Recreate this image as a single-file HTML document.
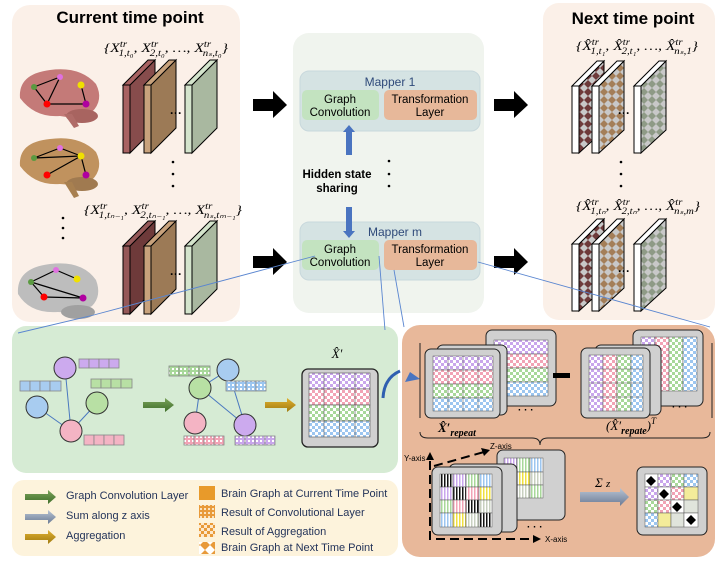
<!DOCTYPE html>
<html><head><meta charset="utf-8"><style>
html,body{margin:0;padding:0;background:#fff;}
svg{display:block;font-family:"Liberation Sans",sans-serif;}
.m{font-family:"Liberation Serif",serif;font-style:italic;font-size:13px;}
.lg{font-size:11px;fill:#24345a;}
</style></head><body>
<svg width="719" height="562" viewBox="0 0 719 562" xmlns="http://www.w3.org/2000/svg">
<defs>
<pattern id="cP" width="6" height="6" patternUnits="userSpaceOnUse"><rect width="6" height="6" fill="#fff"/><rect width="3" height="3" fill="#c9a6ec"/><rect x="3" y="3" width="3" height="3" fill="#c9a6ec"/></pattern>
<pattern id="cR" width="6" height="6" patternUnits="userSpaceOnUse"><rect width="6" height="6" fill="#fff"/><rect width="3" height="3" fill="#f2a3b5"/><rect x="3" y="3" width="3" height="3" fill="#f2a3b5"/></pattern>
<pattern id="cG" width="6" height="6" patternUnits="userSpaceOnUse"><rect width="6" height="6" fill="#fff"/><rect width="3" height="3" fill="#a8d89a"/><rect x="3" y="3" width="3" height="3" fill="#a8d89a"/></pattern>
<pattern id="cB" width="6" height="6" patternUnits="userSpaceOnUse"><rect width="6" height="6" fill="#fff"/><rect width="3" height="3" fill="#9cc6f0"/><rect x="3" y="3" width="3" height="3" fill="#9cc6f0"/></pattern>
<pattern id="dG" width="4" height="4" patternUnits="userSpaceOnUse"><rect width="4" height="4" fill="#a8d89a"/><rect width="2" height="2" fill="#fff"/></pattern>
<pattern id="dB" width="4" height="4" patternUnits="userSpaceOnUse"><rect width="4" height="4" fill="#9cc6f0"/><rect width="2" height="2" fill="#fff"/></pattern>
<pattern id="dR" width="4" height="4" patternUnits="userSpaceOnUse"><rect width="4" height="4" fill="#f2a3b5"/><rect width="2" height="2" fill="#fff"/></pattern>
<pattern id="dP" width="4" height="4" patternUnits="userSpaceOnUse"><rect width="4" height="4" fill="#c9a6ec"/><rect width="2" height="2" fill="#fff"/></pattern>
<pattern id="diaR" width="8" height="8" patternUnits="userSpaceOnUse"><rect width="8" height="8" fill="#c8c8c8"/><path d="M4 0L8 4L4 8L0 4Z" fill="#6e3a3a"/></pattern>
<pattern id="diaT" width="8" height="8" patternUnits="userSpaceOnUse"><rect width="8" height="8" fill="#c8c8c8"/><path d="M4 0L8 4L4 8L0 4Z" fill="#a47e58"/></pattern>
<pattern id="diaG" width="8" height="8" patternUnits="userSpaceOnUse"><rect width="8" height="8" fill="#c8c8c8"/><path d="M4 0L8 4L4 8L0 4Z" fill="#8e9a86"/></pattern>
<pattern id="sK" width="3" height="4" patternUnits="userSpaceOnUse"><rect width="3" height="4" fill="#fff"/><rect width="1.5" height="4" fill="#111"/></pattern>
<pattern id="sP" width="3" height="4" patternUnits="userSpaceOnUse"><rect width="3" height="4" fill="#fff"/><rect width="1.5" height="4" fill="#c9a6ec"/></pattern>
<pattern id="sR" width="3" height="4" patternUnits="userSpaceOnUse"><rect width="3" height="4" fill="#fff"/><rect width="1.5" height="4" fill="#f2a3b5"/></pattern>
<pattern id="sG" width="3" height="4" patternUnits="userSpaceOnUse"><rect width="3" height="4" fill="#fff"/><rect width="1.5" height="4" fill="#a8d89a"/></pattern>
<pattern id="sB" width="3" height="4" patternUnits="userSpaceOnUse"><rect width="3" height="4" fill="#fff"/><rect width="1.5" height="4" fill="#9cc6f0"/></pattern>
<pattern id="sY" width="3" height="4" patternUnits="userSpaceOnUse"><rect width="3" height="4" fill="#fff"/><rect width="1.5" height="4" fill="#f0e040"/></pattern>
<pattern id="sW" width="3" height="4" patternUnits="userSpaceOnUse"><rect width="3" height="4" fill="#fff"/><rect width="1.5" height="4" fill="#c8d0c0"/></pattern>
<pattern id="oS" width="4" height="4" patternUnits="userSpaceOnUse"><rect width="4" height="4" fill="#e89a3a"/><rect width="2" height="2" fill="#fbe3c0"/></pattern>
<pattern id="oC" width="6" height="6" patternUnits="userSpaceOnUse"><rect width="6" height="6" fill="#fde8cc"/><rect width="3" height="3" fill="#e89a3a"/><rect x="3" y="3" width="3" height="3" fill="#e89a3a"/></pattern>
<pattern id="oD" width="10" height="10" patternUnits="userSpaceOnUse"><rect width="10" height="10" fill="#fff"/><path d="M5 0L10 5L5 10L0 5Z" fill="#e89a3a"/></pattern>
<linearGradient id="gGreen" x1="0" y1="0" x2="0" y2="1"><stop offset="0" stop-color="#7aa25a"/><stop offset="1" stop-color="#3f6e2a"/></linearGradient>
<linearGradient id="gGold" x1="0" y1="0" x2="0" y2="1"><stop offset="0" stop-color="#e0b030"/><stop offset="1" stop-color="#a07a10"/></linearGradient>
<linearGradient id="gGray" x1="0" y1="0" x2="0" y2="1"><stop offset="0" stop-color="#b8c4d4"/><stop offset="1" stop-color="#6a7a94"/></linearGradient>
</defs>

<rect x="12" y="5" width="228" height="317" rx="18" fill="#fbf0e8"/>
<rect x="293" y="33" width="191" height="280" rx="16" fill="#f0f4ee"/>
<rect x="543" y="3" width="172" height="317" rx="16" fill="#fbf0e8"/>
<rect x="12" y="326" width="386" height="147" rx="14" fill="#d6ebd4"/>
<rect x="12" y="480" width="386" height="76" rx="12" fill="#fdf3dc"/>
<rect x="402" y="325" width="313" height="232" rx="18" fill="#e8b89a"/>

<text x="130" y="23" text-anchor="middle" font-size="17" font-weight="bold">Current time point</text>
<text x="633" y="24" text-anchor="middle" font-size="17" font-weight="bold">Next time point</text>

<!-- brains -->
<g>
 <path d="M20 98 Q18 74 50 70 Q80 66 96 84 Q104 100 92 112 Q80 120 60 116 Q35 118 20 98Z" fill="#c47a78"/>
 <ellipse cx="82" cy="116" rx="16" ry="7" fill="#a86460"/><path d="M64 114 L74 128 L79 126 L72 114Z" fill="#b06c68"/>
 <g stroke="#000" stroke-width="1.2"><line x1="34" y1="87" x2="60" y2="77"/><line x1="34" y1="87" x2="47" y2="104"/><line x1="60" y1="77" x2="47" y2="104"/><line x1="47" y1="104" x2="86" y2="104"/><line x1="81" y1="85" x2="86" y2="104"/></g>
 <circle cx="34" cy="87" r="3" fill="#5a9a40"/><circle cx="60" cy="77" r="3" fill="#e070e0"/><circle cx="81" cy="85" r="3.5" fill="#f0e000"/><circle cx="47" cy="104" r="3.5" fill="#f00"/><circle cx="86" cy="104" r="3.5" fill="#b000a0"/>
</g>
<g>
 <path d="M20 166 Q18 142 50 139 Q80 135 96 152 Q104 168 92 180 Q80 186 60 184 Q35 186 20 166Z" fill="#c0925e"/>
 <ellipse cx="82" cy="184" rx="16" ry="7" fill="#a07a50"/><path d="M64 182 L74 198 L79 196 L72 182Z" fill="#a88050"/>
 <g stroke="#000" stroke-width="1.2"><line x1="34" y1="158" x2="60" y2="148"/><line x1="34" y1="158" x2="81" y2="156"/><line x1="60" y1="148" x2="81" y2="156"/><line x1="47" y1="175" x2="81" y2="156"/><line x1="81" y1="156" x2="86" y2="175"/></g>
 <circle cx="34" cy="158" r="3" fill="#5a9a40"/><circle cx="60" cy="148" r="3" fill="#e070e0"/><circle cx="81" cy="156" r="3.5" fill="#f0e000"/><circle cx="47" cy="175" r="3.5" fill="#f00"/><circle cx="86" cy="175" r="3.5" fill="#b000a0"/>
</g>
<circle cx="63" cy="218" r="1.3"/><circle cx="63" cy="228" r="1.3"/><circle cx="63" cy="238" r="1.3"/>
<g>
 <path d="M18 294 Q16 268 50 264 Q82 260 96 280 Q102 296 92 306 Q78 314 58 312 Q30 314 18 294Z" fill="#bdbdbd"/>
 <ellipse cx="78" cy="312" rx="17" ry="7" fill="#a0a0a0"/>
 <g stroke="#000" stroke-width="1.2"><line x1="31" y1="282" x2="56" y2="270"/><line x1="31" y1="282" x2="44" y2="297"/><line x1="31" y1="282" x2="83" y2="298"/><line x1="56" y1="270" x2="77" y2="279"/><line x1="44" y1="297" x2="83" y2="298"/></g>
 <circle cx="31" cy="282" r="3" fill="#5a9a40"/><circle cx="56" cy="270" r="3" fill="#e070e0"/><circle cx="77" cy="279" r="3.5" fill="#f0e000"/><circle cx="44" cy="297" r="3.5" fill="#f00"/><circle cx="83" cy="298" r="3.5" fill="#b000a0"/>
</g>

<!-- left slabs -->
<g stroke="#000" stroke-width="1">
 <polygon points="130,85 155,60 155,128 130,153" fill="#874c4c"/><polygon points="123,85 148,60 155,60 130,85" fill="#a86262"/><rect x="123" y="85" width="7" height="68" fill="#a86262"/>
 <polygon points="151,85 176,60 176,128 151,153" fill="#9c7a56"/><polygon points="144,85 169,60 176,60 151,85" fill="#c8a27c"/><rect x="144" y="85" width="7" height="68" fill="#c8a27c"/>
 <polygon points="192,85 217,60 217,128 192,153" fill="#a9b8a0"/><polygon points="185,85 210,60 217,60 192,85" fill="#d4e4cc"/><rect x="185" y="85" width="7" height="68" fill="#d4e4cc"/>
 <polygon points="130,246 155,221 155,289 130,314" fill="#6e3a3a"/><polygon points="123,246 148,221 155,221 130,246" fill="#955858"/><rect x="123" y="246" width="7" height="68" fill="#955858"/>
 <polygon points="151,246 176,221 176,289 151,314" fill="#9c7a56"/><polygon points="144,246 169,221 176,221 151,246" fill="#c8a27c"/><rect x="144" y="246" width="7" height="68" fill="#c8a27c"/>
 <polygon points="192,246 217,221 217,289 192,314" fill="#a9b8a0"/><polygon points="185,246 210,221 217,221 192,246" fill="#d4e4cc"/><rect x="185" y="246" width="7" height="68" fill="#d4e4cc"/>
</g>
<text x="170" y="117" font-size="12" font-weight="bold">···</text>
<text x="170" y="278" font-size="12" font-weight="bold">···</text>
<circle cx="173" cy="162" r="1.3"/><circle cx="173" cy="174" r="1.3"/><circle cx="173" cy="186" r="1.3"/>
<text x="104" y="52" class="m" textLength="124" lengthAdjust="spacingAndGlyphs">{X<tspan font-size="9" dy="-5">tr</tspan><tspan font-size="9" dx="-7" dy="9">1,t₀</tspan><tspan dy="-4">, X</tspan><tspan font-size="9" dy="-5">tr</tspan><tspan font-size="9" dx="-7" dy="9">2,t₀</tspan><tspan dy="-4">, …, X</tspan><tspan font-size="9" dy="-5">tr</tspan><tspan font-size="9" dx="-7" dy="9">nₛ,t₀</tspan><tspan dy="-4">}</tspan></text>
<text x="84" y="214" class="m" textLength="158" lengthAdjust="spacingAndGlyphs">{X<tspan font-size="9" dy="-5">tr</tspan><tspan font-size="9" dx="-7" dy="9">1,tₙ₋₁</tspan><tspan dy="-4">, X</tspan><tspan font-size="9" dy="-5">tr</tspan><tspan font-size="9" dx="-7" dy="9">2,tₙ₋₁</tspan><tspan dy="-4">, …, X</tspan><tspan font-size="9" dy="-5">tr</tspan><tspan font-size="9" dx="-7" dy="9">nₛ,tₘ₋₁</tspan><tspan dy="-4">}</tspan></text>

<!-- right slabs -->
<g stroke="#000" stroke-width="1">
 <polygon points="579,86 604,61 604,130 579,153" fill="url(#diaR)"/><polygon points="572,86 597,61 604,61 579,86" fill="#fff"/><rect x="572" y="86" width="7" height="67" fill="#fff"/>
 <polygon points="599,86 624,61 624,130 599,153" fill="url(#diaT)"/><polygon points="592,86 617,61 624,61 599,86" fill="#fff"/><rect x="592" y="86" width="7" height="67" fill="#fff"/>
 <polygon points="641,86 666,61 666,130 641,153" fill="url(#diaG)"/><polygon points="634,86 659,61 666,61 641,86" fill="#fff"/><rect x="634" y="86" width="7" height="67" fill="#fff"/>
 <polygon points="579,244 604,219 604,288 579,311" fill="url(#diaR)"/><polygon points="572,244 597,219 604,219 579,244" fill="#fff"/><rect x="572" y="244" width="7" height="67" fill="#fff"/>
 <polygon points="599,244 624,219 624,288 599,311" fill="url(#diaT)"/><polygon points="592,244 617,219 624,219 599,244" fill="#fff"/><rect x="592" y="244" width="7" height="67" fill="#fff"/>
 <polygon points="641,244 666,219 666,288 641,311" fill="url(#diaG)"/><polygon points="634,244 659,219 666,219 641,244" fill="#fff"/><rect x="634" y="244" width="7" height="67" fill="#fff"/>
</g>
<text x="618" y="117" font-size="12" font-weight="bold">···</text>
<text x="618" y="275" font-size="12" font-weight="bold">···</text>
<circle cx="621" cy="162" r="1.3"/><circle cx="621" cy="174" r="1.3"/><circle cx="621" cy="186" r="1.3"/>
<text x="576" y="50" class="m" textLength="122" lengthAdjust="spacingAndGlyphs">{X̂<tspan font-size="9" dy="-5">tr</tspan><tspan font-size="9" dx="-7" dy="9">1,t₁</tspan><tspan dy="-4">, X̂</tspan><tspan font-size="9" dy="-5">tr</tspan><tspan font-size="9" dx="-7" dy="9">2,t₁</tspan><tspan dy="-4">, …, X̂</tspan><tspan font-size="9" dy="-5">tr</tspan><tspan font-size="9" dx="-7" dy="9">nₛ,1</tspan><tspan dy="-4">}</tspan></text>
<text x="576" y="210" class="m" textLength="124" lengthAdjust="spacingAndGlyphs">{X̂<tspan font-size="9" dy="-5">tr</tspan><tspan font-size="9" dx="-7" dy="9">1,tₙ</tspan><tspan dy="-4">, X̂</tspan><tspan font-size="9" dy="-5">tr</tspan><tspan font-size="9" dx="-7" dy="9">2,tₙ</tspan><tspan dy="-4">, …, X̂</tspan><tspan font-size="9" dy="-5">tr</tspan><tspan font-size="9" dx="-7" dy="9">nₛ,m</tspan><tspan dy="-4">}</tspan></text>

<g fill="#000">
 <polygon points="253,99 273,99 273,91 287,105 273,118 273,111 253,111"/>
 <polygon points="253,256 273,256 273,248 287,262 273,275 273,268 253,268"/>
 <polygon points="494,99 514,99 514,91 528,105 514,118 514,111 494,111"/>
 <polygon points="494,256 514,256 514,248 528,262 514,275 514,268 494,268"/>
</g>

<rect x="300" y="71" width="180" height="60" rx="9" fill="#d5e3e3" stroke="#c8d8dc"/>
<text x="390" y="86" text-anchor="middle" font-size="12" fill="#2f4a7a">Mapper 1</text>
<rect x="302" y="90" width="77" height="30" rx="5" fill="#c3e3c0"/>
<text x="340" y="103" text-anchor="middle" font-size="11.5">Graph</text><text x="340" y="116" text-anchor="middle" font-size="11.5">Convolution</text>
<rect x="384" y="90" width="93" height="30" rx="5" fill="#e7b89a"/>
<text x="430" y="103" text-anchor="middle" font-size="11.5">Transformation</text><text x="430" y="116" text-anchor="middle" font-size="11.5">Layer</text>
<rect x="300" y="222" width="180" height="58" rx="9" fill="#d5e3e3" stroke="#c8d8dc"/>
<text x="395" y="236" font-size="12" fill="#2f4a7a" text-anchor="middle">Mapper m</text>
<rect x="302" y="240" width="77" height="30" rx="5" fill="#c3e3c0"/>
<text x="340" y="253" text-anchor="middle" font-size="11.5">Graph</text><text x="340" y="266" text-anchor="middle" font-size="11.5">Convolution</text>
<rect x="384" y="240" width="93" height="30" rx="5" fill="#e7b89a"/>
<text x="430" y="253" text-anchor="middle" font-size="11.5">Transformation</text><text x="430" y="266" text-anchor="middle" font-size="11.5">Layer</text>
<polygon points="349,125 355,132 352,132 352,155 346,155 346,132 343,132" fill="#4a74c0"/>
<polygon points="349,238 355,231 352,231 352,207 346,207 346,231 343,231" fill="#4a74c0"/>
<text x="337" y="178" text-anchor="middle" font-size="11.5" font-weight="bold">Hidden state</text>
<text x="337" y="192" text-anchor="middle" font-size="11.5" font-weight="bold">sharing</text>
<circle cx="389" cy="161" r="1.3"/><circle cx="389" cy="174" r="1.3"/><circle cx="389" cy="186" r="1.3"/>

<g stroke="#5a86d0" stroke-width="0.9" fill="none">
 <polyline points="315,256 90,316 18,333"/>
 <line x1="379" y1="256" x2="385" y2="330"/>
 <line x1="394" y1="270" x2="404" y2="327"/>
 <line x1="478" y1="262" x2="710" y2="327"/>
</g>

<g stroke="#4a78c0" stroke-width="1"><line x1="65" y1="368" x2="71" y2="431"/><line x1="37" y1="407" x2="71" y2="431"/><line x1="97" y1="403" x2="71" y2="431"/>
<line x1="228" y1="370" x2="200" y2="388"/><line x1="200" y1="388" x2="195" y2="423"/><line x1="200" y1="388" x2="245" y2="425"/><line x1="228" y1="370" x2="245" y2="425"/></g>
<g stroke="#333" stroke-width="1">
<circle cx="65" cy="368" r="11" fill="#ccaaee"/><circle cx="37" cy="407" r="11" fill="#a8ccf0"/><circle cx="97" cy="403" r="11" fill="#b8e0a4"/><circle cx="71" cy="431" r="11" fill="#f4b4c4"/>
<circle cx="228" cy="370" r="11" fill="#a8ccf0"/><circle cx="200" cy="388" r="11" fill="#b8e0a4"/><circle cx="195" cy="423" r="11" fill="#f4b4c4"/><circle cx="245" cy="425" r="11" fill="#ccaaee"/>
</g>
<g stroke="#888" stroke-width="0.8">
 <g fill="#ccaaee"><rect x="79" y="359" width="10" height="9"/><rect x="89" y="359" width="10" height="9"/><rect x="99" y="359" width="10" height="9"/><rect x="109" y="359" width="10" height="9"/></g>
 <g fill="#a8ccf0"><rect x="20" y="381" width="10" height="10"/><rect x="30" y="381" width="10" height="10"/><rect x="40" y="381" width="10" height="10"/><rect x="50" y="381" width="11" height="10"/></g>
 <g fill="#b8e0a4"><rect x="91" y="379" width="10" height="9"/><rect x="101" y="379" width="10" height="9"/><rect x="111" y="379" width="10" height="9"/><rect x="121" y="379" width="11" height="9"/></g>
 <g fill="#f4b4c4"><rect x="84" y="435" width="10" height="10"/><rect x="94" y="435" width="10" height="10"/><rect x="104" y="435" width="10" height="10"/><rect x="114" y="435" width="10" height="10"/></g>
 <g fill="url(#dG)"><rect x="169" y="366" width="10" height="10"/><rect x="179" y="366" width="10" height="10"/><rect x="189" y="366" width="10" height="10"/><rect x="199" y="366" width="11" height="10"/></g>
 <g fill="url(#dB)"><rect x="226" y="381" width="10" height="10"/><rect x="236" y="381" width="10" height="10"/><rect x="246" y="381" width="10" height="10"/><rect x="256" y="381" width="10" height="10"/></g>
 <g fill="url(#dR)"><rect x="184" y="436" width="10" height="9"/><rect x="194" y="436" width="10" height="9"/><rect x="204" y="436" width="10" height="9"/><rect x="214" y="436" width="10" height="9"/></g>
 <g fill="url(#dP)"><rect x="235" y="436" width="10" height="9"/><rect x="245" y="436" width="10" height="9"/><rect x="255" y="436" width="10" height="9"/><rect x="265" y="436" width="10" height="9"/></g>
</g>
<polygon points="143,402 165,402 165,398 174,405 165,412 165,408 143,408" fill="url(#gGreen)"/>
<polygon points="265,402 287,402 287,398 296,405 287,412 287,408 265,408" fill="url(#gGold)"/>
<text x="337" y="358" text-anchor="middle" class="m" font-size="13">X̂′</text>
<rect x="302" y="369" width="76" height="78" rx="6" fill="#d0d0d0" stroke="#222" stroke-width="1.3"/>
<g stroke="#555" stroke-width="0.6">
<rect x="309" y="373" width="61" height="16" fill="url(#cP)"/><rect x="309" y="389" width="61" height="16" fill="url(#cR)"/><rect x="309" y="405" width="61" height="16" fill="url(#cG)"/><rect x="309" y="421" width="61" height="16" fill="url(#cB)"/>
<line x1="324" y1="373" x2="324" y2="437"/><line x1="339.5" y1="373" x2="339.5" y2="437"/><line x1="355" y1="373" x2="355" y2="437"/>
</g>
<path d="M400 371 Q384 378 383 398" stroke="#2f5fb0" stroke-width="3" fill="none"/>
<polygon points="410,372 420,379 405,382" fill="#4a74c0"/>

<polygon points="25,494 48,494 48,490 56,497 48,504 48,500 25,500" fill="url(#gGreen)"/>
<polygon points="25,514 48,514 48,510 56,517 48,524 48,520 25,520" fill="url(#gGray)"/>
<polygon points="25,534 48,534 48,530 56,537 48,544 48,540 25,540" fill="url(#gGold)"/>
<text x="66" y="499" class="lg">Graph Convolution Layer</text>
<text x="66" y="519" class="lg">Sum along z axis</text>
<text x="66" y="539" class="lg">Aggregation</text>
<rect x="199" y="486" width="16" height="14" fill="#e89a2a"/>
<rect x="199" y="505" width="16" height="13" fill="url(#oS)"/>
<rect x="199" y="523" width="16" height="14" fill="url(#oC)"/>
<rect x="199" y="542" width="16" height="12" fill="url(#oD)"/>
<text x="221" y="497" class="lg">Brain Graph at Current Time Point</text>
<text x="221" y="516" class="lg">Result of Convolutional Layer</text>
<text x="221" y="535" class="lg">Result of Aggregation</text>
<text x="221" y="551" class="lg">Brain Graph at Next Time Point</text>

<rect x="486" y="330" width="70" height="76" rx="6" fill="#d0d0d0" stroke="#222"/>
<g stroke="#555" stroke-width="0.5"><rect x="494" y="340" width="54" height="14" fill="url(#cP)"/><rect x="494" y="354" width="54" height="14" fill="url(#cR)"/><rect x="494" y="368" width="54" height="14" fill="url(#cG)"/><rect x="494" y="382" width="54" height="14" fill="url(#cB)"/></g>
<rect x="437" y="345" width="70" height="70" rx="6" fill="#d0d0d0" stroke="#222"/>
<rect x="425" y="349" width="75" height="69" rx="6" fill="#d0d0d0" stroke="#222"/>
<g stroke="#555" stroke-width="0.5"><rect x="433" y="356" width="60" height="14" fill="url(#cP)"/><rect x="433" y="370" width="60" height="14" fill="url(#cR)"/><rect x="433" y="384" width="60" height="14" fill="url(#cG)"/><rect x="433" y="398" width="60" height="13" fill="url(#cB)"/>
<line x1="448" y1="356" x2="448" y2="411"/><line x1="463" y1="356" x2="463" y2="411"/><line x1="478" y1="356" x2="478" y2="411"/></g>
<text x="518" y="413" font-size="10" font-weight="bold">· · ·</text>
<rect x="553" y="373" width="17" height="5" fill="#000"/>
<rect x="633" y="330" width="70" height="76" rx="6" fill="#d0d0d0" stroke="#222"/>
<g stroke="#555" stroke-width="0.5"><rect x="641" y="337" width="14" height="54" fill="url(#cP)"/><rect x="655" y="337" width="14" height="54" fill="url(#cR)"/><rect x="669" y="337" width="14" height="54" fill="url(#cG)"/><rect x="683" y="337" width="14" height="54" fill="url(#cB)"/></g>
<rect x="595" y="345" width="66" height="70" rx="6" fill="#d0d0d0" stroke="#222"/>
<rect x="581" y="348" width="69" height="70" rx="6" fill="#d0d0d0" stroke="#222"/>
<g stroke="#555" stroke-width="0.5"><rect x="589" y="355" width="14" height="56" fill="url(#cP)"/><rect x="603" y="355" width="14" height="56" fill="url(#cR)"/><rect x="617" y="355" width="14" height="56" fill="url(#cG)"/><rect x="631" y="355" width="12" height="56" fill="url(#cB)"/>
<line x1="589" y1="369" x2="643" y2="369"/><line x1="589" y1="383" x2="643" y2="383"/><line x1="589" y1="397" x2="643" y2="397"/></g>
<text x="672" y="410" font-size="10" font-weight="bold">· · ·</text>
<line x1="420" y1="343" x2="420" y2="418" stroke="#222"/>
<line x1="712" y1="343" x2="712" y2="418" stroke="#222"/>
<text x="438" y="432" class="m" font-size="13" font-weight="bold">X̂′<tspan font-size="10" dy="4">repeat</tspan></text>
<text x="606" y="430" class="m" font-size="13">(X̂′<tspan font-size="10" dy="4" font-weight="bold">repate</tspan><tspan dy="-4">)</tspan><tspan font-size="9" dy="-6">T</tspan></text>
<path d="M420 432 Q420 438 428 438 L532 438 Q540 438 540 445 Q540 438 548 438 L702 438 Q710 438 710 432" stroke="#222" fill="none"/>
<rect x="497" y="450" width="68" height="70" rx="6" fill="#d0d0d0" stroke="#222"/>
<g stroke="#555" stroke-width="0.5">
<rect x="504" y="458" width="13" height="14" fill="url(#sP)"/><rect x="517" y="458" width="13" height="14" fill="url(#sG)"/><rect x="530" y="458" width="13" height="14" fill="url(#sB)"/>
<rect x="504" y="472" width="13" height="13" fill="url(#sR)"/><rect x="517" y="472" width="13" height="13" fill="url(#sY)"/><rect x="530" y="472" width="13" height="13" fill="url(#sW)"/>
<rect x="504" y="485" width="13" height="13" fill="url(#sK)"/><rect x="517" y="485" width="13" height="13" fill="url(#sW)"/><rect x="530" y="485" width="13" height="13" fill="url(#sG)"/>
</g>
<rect x="449" y="464" width="68" height="68" rx="6" fill="#d0d0d0" stroke="#222"/>
<rect x="432" y="467" width="70" height="68" rx="6" fill="#d0d0d0" stroke="#222"/>
<g stroke="#555" stroke-width="0.5">
<rect x="440" y="474" width="13" height="13" fill="url(#sK)"/><rect x="453" y="474" width="13" height="13" fill="url(#sP)"/><rect x="466" y="474" width="13" height="13" fill="url(#sG)"/><rect x="479" y="474" width="13" height="13" fill="url(#sB)"/>
<rect x="440" y="487" width="13" height="13" fill="url(#sP)"/><rect x="453" y="487" width="13" height="13" fill="url(#sK)"/><rect x="466" y="487" width="13" height="13" fill="url(#sR)"/><rect x="479" y="487" width="13" height="13" fill="url(#sY)"/>
<rect x="440" y="500" width="13" height="13" fill="url(#sG)"/><rect x="453" y="500" width="13" height="13" fill="url(#sR)"/><rect x="466" y="500" width="13" height="13" fill="url(#sK)"/><rect x="479" y="500" width="13" height="13" fill="url(#sW)"/>
<rect x="440" y="513" width="13" height="14" fill="url(#sB)"/><rect x="453" y="513" width="13" height="14" fill="url(#sY)"/><rect x="466" y="513" width="13" height="14" fill="url(#sW)"/><rect x="479" y="513" width="13" height="14" fill="url(#sK)"/>
</g>
<text x="527" y="530" font-size="10" font-weight="bold">· · ·</text>
<g stroke="#000" stroke-width="2" stroke-dasharray="9,5" fill="none">
<line x1="430" y1="540" x2="430" y2="458"/><line x1="436" y1="539" x2="533" y2="539"/><line x1="434" y1="466" x2="484" y2="452"/>
</g>
<polygon points="430,452 426,460 434,460"/><polygon points="541,539 533,535 533,543"/><polygon points="490,450 481,448 484,456"/>
<text x="404" y="461" font-size="8">Y-axis</text>
<text x="545" y="542" font-size="8">X-axis</text>
<text x="490" y="449" font-size="8">Z-axis</text>
<text x="595" y="487" class="m" font-size="13" font-style="normal">Σ <tspan font-style="italic" font-size="11">z</tspan></text>
<polygon points="580,492 620,492 620,488 629,497 620,506 620,502 580,502" fill="url(#gGray)"/>
<rect x="637" y="467" width="70" height="68" rx="6" fill="#d0d0d0" stroke="#222"/>
<g stroke="#555" stroke-width="0.5">
<rect x="645" y="474" width="13" height="13" fill="#fff"/><rect x="658" y="474" width="13" height="13" fill="url(#cP)"/><rect x="671" y="474" width="13" height="13" fill="url(#cG)"/><rect x="684" y="474" width="14" height="13" fill="url(#cB)"/>
<rect x="645" y="487" width="13" height="13" fill="url(#cP)"/><rect x="658" y="487" width="13" height="13" fill="#fff"/><rect x="671" y="487" width="13" height="13" fill="url(#cR)"/><rect x="684" y="487" width="14" height="13" fill="#f4ec9a"/>
<rect x="645" y="500" width="13" height="13" fill="url(#cG)"/><rect x="658" y="500" width="13" height="13" fill="url(#cR)"/><rect x="671" y="500" width="13" height="13" fill="#fff"/><rect x="684" y="500" width="14" height="13" fill="#e0e4dc"/>
<rect x="645" y="513" width="13" height="14" fill="url(#cB)"/><rect x="658" y="513" width="13" height="14" fill="#f4ec9a"/><rect x="671" y="513" width="13" height="14" fill="#e0e4dc"/><rect x="684" y="513" width="14" height="14" fill="#fff"/>
</g>
<g fill="#000"><path d="M651 476l5 5-5 5-5-5z"/><path d="M664 489l5 5-5 5-5-5z"/><path d="M677 502l5 5-5 5-5-5z"/><path d="M691 515l5 5-5 5-5-5z"/></g>
</svg>
</body></html>
